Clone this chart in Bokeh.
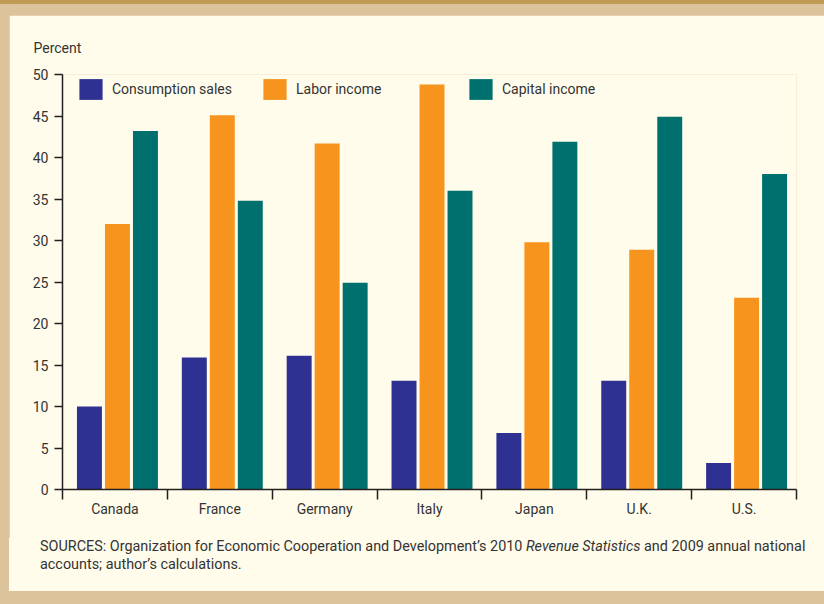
from bokeh.plotting import figure
from bokeh.models import (ColumnDataSource, FixedTicker, Legend, LegendItem, Title, Div)
from bokeh.layouts import column
from bokeh.transform import dodge
from bokeh.embed import file_html
from bokeh.resources import INLINE

categories = ["Canada", "France", "Germany", "Italy", "Japan", "U.K.", "U.S."]
consumption_sales = [10.0, 15.9, 16.1, 13.1, 6.8, 13.1, 3.2]
labor_income = [32.0, 45.1, 41.7, 48.8, 29.8, 28.9, 23.1]
capital_income = [43.2, 34.8, 24.9, 36.0, 41.9, 44.9, 38.0]
y_ticks = [0, 5, 10, 15, 20, 25, 30, 35, 40, 45, 50]
series_names = ["Consumption sales", "Labor income", "Capital income"]
colors = ["#2E3192", "#F7941D", "#00706E"]
y_title = "Percent"
source_note = ("SOURCES: Organization for Economic Cooperation and Development\u2019s 2010 "
               "<i>Revenue Statistics</i> and 2009 annual national<br>"
               "accounts; author\u2019s calculations.")

FONT = "Roboto"
FS = "14px"
TXT = "#333333"
AXC = "#231F20"
CREAM = "#FFFCEB"
TAN = "#DCC39C"
DARK = "#C19A56"

W = 815

centers = [i + 0.5 for i in range(len(categories))]
source = ColumnDataSource(dict(x=centers, cons=consumption_sales,
                               labor=labor_income, cap=capital_income))

p = figure(width=W, height=523, x_range=(0, len(categories)), y_range=(0, 50),
           output_backend="svg", toolbar_location=None,
           min_border_left=53, min_border_right=W - 787, min_border_top=59,
           min_border_bottom=49)
p.background_fill_color = CREAM
p.border_fill_color = CREAM
p.outline_line_color = None
p.xgrid.grid_line_color = None
p.ygrid.grid_line_color = None

bw = 0.238
step = 0.267
shift = 0.024
renderers = []
for field, off, col in zip(["cons", "labor", "cap"], [-step, 0, step], colors):
    r = p.vbar(x=dodge("x", off + shift, range=p.x_range), top=field, width=bw,
               source=source, fill_color=col, line_color=None)
    renderers.append(r)

# x axis: labels at group centres, ticks at group boundaries
xa = p.xaxis[0]
xa.ticker = FixedTicker(ticks=centers, minor_ticks=list(range(len(categories) + 1)))
xa.major_label_overrides = {c: name for c, name in zip(centers, categories)}
xa.major_tick_out = 0
xa.major_tick_in = 0
xa.minor_tick_out = 10
xa.minor_tick_in = 0
xa.minor_tick_line_color = AXC
xa.minor_tick_line_width = 1.5
xa.axis_line_color = AXC
xa.axis_line_width = 1.5
xa.major_label_standoff = 1
xa.major_label_text_font = FONT
xa.major_label_text_font_size = FS
xa.major_label_text_color = TXT

# y axis
ya = p.yaxis[0]
ya.ticker = FixedTicker(ticks=y_ticks)
ya.major_tick_out = 8
ya.major_tick_in = 0
ya.minor_tick_out = 0
ya.minor_tick_in = 0
ya.major_tick_line_color = AXC
ya.major_tick_line_width = 1.5
ya.axis_line_color = AXC
ya.axis_line_width = 1.5
ya.major_label_standoff = 6
ya.major_label_text_font = FONT
ya.major_label_text_font_size = FS
ya.major_label_text_color = TXT

# legends (one per series, placed individually)
legend_x = [14, 198, 404]
for name, r, lx in zip(series_names, renderers, legend_x):
    lg = Legend(items=[LegendItem(label=name, renderers=[r])], location=(lx, 387),
                orientation="horizontal", glyph_width=29, glyph_height=26,
                label_standoff=7, padding=0, margin=0, border_line_color=None,
                background_fill_alpha=0, label_text_font=FONT,
                label_text_font_size=FS, label_text_color=TXT,
                label_height=26)
    p.add_layout(lg)

# "Percent" title above the axis
p.add_layout(Title(text=y_title, align="left", offset=-29, standoff=38,
                   text_font=FONT, text_font_size=FS, text_font_style="normal",
                   text_color=TXT), "above")

note = Div(text=('<div style="font-family:Roboto;font-size:14.4px;color:%s;'
                 'line-height:18px;padding-left:31px;white-space:nowrap;">%s</div>'
                 % (TXT, source_note)),
           width=W, height=53, margin=(0, 0, 0, 0),
           styles={"background-color": CREAM})

layout = column(p, note, spacing=0,
                styles={"background-color": TAN, "border-top": "4px solid " + DARK,
                        "padding": "11px 0px 13px 9px"})

open("out.html", "w").write(file_html(layout, INLINE))
